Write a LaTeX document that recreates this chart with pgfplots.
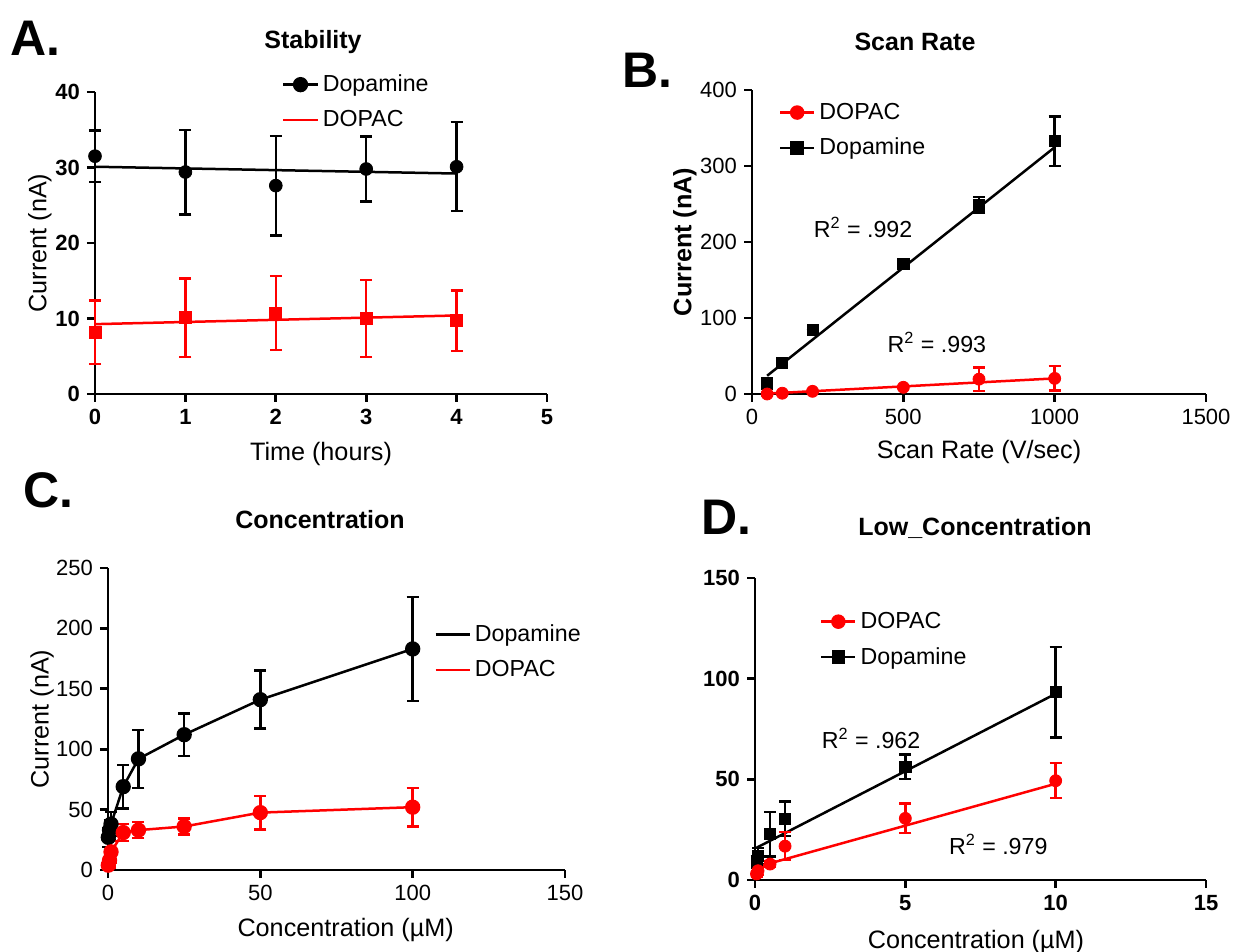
\documentclass[border=0pt]{standalone}
\usepackage{fontspec}
\setmainfont{Liberation Sans}
\usepackage{pgfplots}
\pgfplotsset{compat=1.18}
\definecolor{prismred}{RGB}{255,0,0}

\pgfplotsset{
  prism/.style={
    scale only axis,
    axis lines*=left,
    axis line style={line width=1.35pt},
    tick style={line width=1.35pt, black},
    tick align=outside,
    major tick length=4pt,
    clip=false,
    /pgf/number format/assume math mode=true,
    /pgf/number format/1000 sep={},
    legend cell align=left,
    legend style={draw=none, fill=none, anchor=north west,
      font=\fontsize{11.6}{13}\selectfont, row sep=4pt},
    label style={font=\fontsize{12.6}{14}\selectfont},
    ticklabel style={font=\fontsize{11}{13}\selectfont},
  },
  errs/.style={error bars/.cd, y dir=both, y explicit,
    error bar style={line width=1.2pt},
    error mark options={rotate=90, mark size=3pt, line width=1.2pt}},
}

\begin{document}
\begin{tikzpicture}
\path[use as bounding box] (0,0) rectangle (616.5pt,476pt);

% panel letters and titles
\node[font=\bfseries\fontsize{25}{28}\selectfont, anchor=west] at (1.5pt,457pt) {A.};
\node[font=\bfseries\fontsize{25}{28}\selectfont, anchor=west] at (307.5pt,441pt) {B.};
\node[font=\bfseries\fontsize{25}{28}\selectfont, anchor=west] at (8pt,231pt) {C.};
\node[font=\bfseries\fontsize{25}{28}\selectfont, anchor=west] at (347pt,217.5pt) {D.};
\node[font=\bfseries\fontsize{12.5}{14}\selectfont] at (156.5pt,455pt) {Stability};
\node[font=\bfseries\fontsize{12.5}{14}\selectfont] at (457.5pt,455pt) {Scan Rate};
\node[font=\bfseries\fontsize{12.5}{14}\selectfont] at (160pt,216pt) {Concentration};
\node[font=\bfseries\fontsize{12.5}{14}\selectfont] at (487.5pt,212pt) {Low\_Concentration};

% A. Stability
\begin{axis}[prism, at={(47.5pt,279pt)}, anchor=south west,
  width=226pt, height=151pt,
  xmin=0, xmax=5, ymin=0, ymax=40,
  xtick={0,1,2,3,4,5}, ytick={0,10,20,30,40},
  ticklabel style={font=\bfseries\fontsize{11}{13}\selectfont},
  xlabel={Time (hours)}, ylabel={Current (nA)},
  xlabel style={at={(axis description cs:0.5,-0.2)}, anchor=center},
  ylabel style={at={(axis description cs:-0.122,0.5)}, anchor=center},
  legend style={at={(axis description cs:0.4,1.085)}},
]
\addlegendimage{black, line width=1.25pt, mark=*, mark size=3.2pt}
\addlegendentry{Dopamine}
\addlegendimage{prismred, line width=1.25pt, mark=none}
\addlegendentry{DOPAC}
\addplot[forget plot, only marks, black, mark=*, mark size=3.2pt, errs]
  coordinates {(0,31.5) +- (0,3.4) (1,29.4) +- (0,5.6) (2,27.6) +- (0,6.6)
               (3,29.8) +- (0,4.3) (4,30.1) +- (0,5.9)};
\addplot[forget plot, black, line width=1.25pt] coordinates {(0,30.1) (4,29.2)};
\addplot[forget plot, only marks, prismred, mark=square*, mark size=3pt, errs]
  coordinates {(0,8.2) +- (0,4.2) (1,10.1) +- (0,5.2) (2,10.7) +- (0,4.9)
               (3,10.0) +- (0,5.1) (4,9.7) +- (0,4.0)};
\addplot[forget plot, prismred, line width=1.25pt] coordinates {(0,9.25) (4,10.4)};
\end{axis}

% B. Scan Rate
\begin{axis}[prism, at={(376pt,279pt)}, anchor=south west,
  width=227pt, height=152pt,
  xmin=0, xmax=1500, ymin=0, ymax=400,
  xtick={0,500,1000,1500}, ytick={0,100,200,300,400},
  xlabel={Scan Rate (V/sec)}, ylabel={Current (nA)},
  ylabel style={font=\bfseries\fontsize{12.6}{14}\selectfont,
    at={(axis description cs:-0.148,0.5)}, anchor=center},
  xlabel style={at={(axis description cs:0.5,-0.19)}, anchor=center},
  legend style={at={(axis description cs:0.045,0.985)}},
]
\addlegendimage{prismred, line width=1.25pt, mark=*, mark size=3pt}
\addlegendentry{DOPAC}
\addlegendimage{black, line width=1.25pt, mark=square*, mark size=2.8pt}
\addlegendentry{Dopamine}
\addplot[forget plot, only marks, black, mark=square*, mark size=2.8pt, errs]
  coordinates {(50,14) +- (0,0) (100,40.8) +- (0,0) (200,84.2) +- (0,0)
               (500,171) +- (0,0) (750,249) +- (0,10) (1000,332.5) +- (0,32.5)};
\addplot[forget plot, black, line width=1.25pt] coordinates {(50,24) (1000,324.6)};
\addplot[forget plot, only marks, prismred, mark=*, mark size=3pt, errs]
  coordinates {(50,0) +- (0,0) (100,1) +- (0,0) (200,3.5) +- (0,0)
               (500,8.8) +- (0,0) (750,19.5) +- (0,15.5) (1000,20.5) +- (0,16)};
\addplot[forget plot, prismred, line width=1.25pt] coordinates {(50,0.5) (1000,20.5)};
\node[font=\fontsize{11.6}{13}\selectfont] at (axis cs:367,219) {R\textsuperscript{2} = .992};
\node[font=\fontsize{11.6}{13}\selectfont] at (axis cs:611,68) {R\textsuperscript{2} = .993};
\end{axis}

% C. Concentration
\begin{axis}[prism, at={(54pt,41pt)}, anchor=south west,
  width=228.5pt, height=151pt,
  xmin=0, xmax=150, ymin=0, ymax=250,
  xtick={0,50,100,150}, ytick={0,50,100,150,200,250},
  xlabel={Concentration (µM)}, ylabel={Current (nA)},
  xlabel style={at={(axis description cs:0.52,-0.2)}, anchor=center},
  ylabel style={at={(axis description cs:-0.144,0.5)}, anchor=center},
  legend style={at={(axis description cs:0.7,0.84)}},
]
\addlegendimage{black, line width=1.25pt, mark=none}
\addlegendentry{Dopamine}
\addlegendimage{prismred, line width=1.25pt, mark=none}
\addlegendentry{DOPAC}
\addplot[forget plot, black, line width=1.25pt, mark=*, mark size=3.2pt, errs]
  coordinates {(0.1,27) +- (0,8) (0.5,33) +- (0,8) (1,38) +- (0,10)
               (5,69) +- (0,18) (10,92) +- (0,24) (25,112) +- (0,17.5)
               (50,141) +- (0,24) (100,183) +- (0,43)};
\addplot[forget plot, prismred, line width=1.25pt, mark=*, mark size=3.2pt, errs]
  coordinates {(0.1,4) +- (0,3) (0.5,8) +- (0,6) (1,15) +- (0,9)
               (5,31) +- (0,7) (10,33) +- (0,6.5) (25,36) +- (0,6.5)
               (50,47.5) +- (0,14) (100,52) +- (0,16)};
\end{axis}

% D. Low_Concentration
\begin{axis}[prism, at={(377.5pt,36pt)}, anchor=south west,
  width=225.5pt, height=151pt,
  xmin=0, xmax=15, ymin=0, ymax=150,
  xtick={0,5,10,15}, ytick={0,50,100,150},
  ticklabel style={font=\bfseries\fontsize{11}{13}\selectfont},
  xlabel={Concentration (µM)},
  xlabel style={at={(axis description cs:0.49,-0.205)}, anchor=center},
  legend style={at={(axis description cs:0.13,0.915)}},
]
\addlegendimage{prismred, line width=1.25pt, mark=*, mark size=3pt}
\addlegendentry{DOPAC}
\addlegendimage{black, line width=1.25pt, mark=square*, mark size=2.8pt}
\addlegendentry{Dopamine}
\addplot[forget plot, only marks, black, mark=square*, mark size=2.8pt, errs]
  coordinates {(0.05,9) +- (0,3) (0.1,12) +- (0,4) (0.5,22.7) +- (0,11)
               (1,30.4) +- (0,8.5) (5,56.3) +- (0,6) (10,93.3) +- (0,22.5)};
\addplot[forget plot, black, line width=1.25pt] coordinates {(0.05,16) (10,92.5)};
\addplot[forget plot, only marks, prismred, mark=*, mark size=3pt, errs]
  coordinates {(0.05,3) +- (0,1.5) (0.1,4.6) +- (0,2) (0.5,7.9) +- (0,1.5)
               (1,16.8) +- (0,7) (5,30.6) +- (0,7.3) (10,49.3) +- (0,8.7)};
\addplot[forget plot, prismred, line width=1.25pt] coordinates {(0.05,6.4) (10,47.8)};
\node[font=\fontsize{11.6}{13}\selectfont] at (axis cs:3.86,70.3) {R\textsuperscript{2} = .962};
\node[font=\fontsize{11.6}{13}\selectfont] at (axis cs:8.09,17.7) {R\textsuperscript{2} = .979};
\end{axis}
\end{tikzpicture}
\end{document}
